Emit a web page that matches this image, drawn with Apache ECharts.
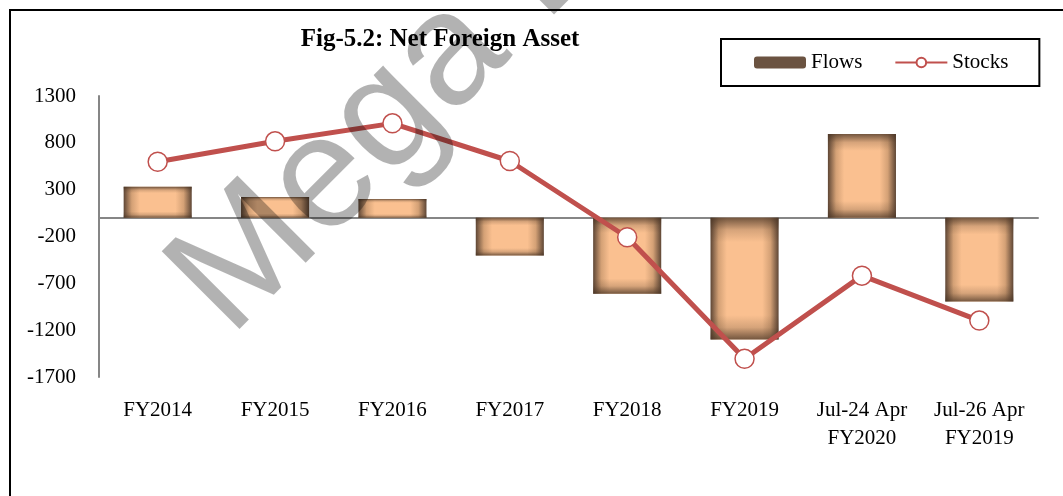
<!DOCTYPE html>
<html>
<head>
<meta charset="utf-8">
<title>Fig-5.2: Net Foreign Asset</title>
<script src="https://cdn.jsdelivr.net/npm/echarts@6/dist/echarts.min.js"></script>
<style>
  html, body { margin: 0; padding: 0; background: #fff; }
  #EchartsOne { width: 1063px; height: 496px; }
</style>
</head>
<body>
<div id="EchartsOne"></div>
<script>
// 数据
var categories = ["FY2014", "FY2015", "FY2016", "FY2017", "FY2018", "FY2019", "Jul-24 Apr\nFY2020", "Jul-26 Apr\nFY2019"];
var flows = [330, 222, 200, -404, -810, -1300, 894, -895];
var stocks = [598, 816, 1008, 606, -208, -1506, -618, -1098];
var yTicks = [-1700, -1200, -700, -200, 300, 800, 1300];

var serif = '"Liberation Serif", "Times New Roman", serif';

var option = {
  animation: false,
  backgroundColor: "#fff",
  title: {
    text: "Fig-5.2: Net Foreign Asset",
    left: 440,
    top: 27,
    textAlign: "center",
    padding: 0,
    textStyle: { fontFamily: serif, fontSize: 25, fontWeight: "bold", color: "#000" },
  },
  tooltip: { trigger: "axis" },
  legend: {
    data: [
      { name: "Flows", itemStyle: { color: "#6b5341" } },
      { name: "Stocks" },
    ],
    left: 721,
    top: 39,
    padding: [13, 31, 13, 33],
    itemWidth: 52,
    itemHeight: 12,
    itemGap: 32,
    borderColor: "#000",
    borderWidth: 2,
    textStyle: { fontFamily: serif, fontSize: 21, color: "#000" },
  },
  grid: { left: 99, right: 25, top: 96, bottom: 119 },
  xAxis: [
    {
      type: "category",
      data: categories,
      axisLine: { show: false, onZero: false },
      axisTick: { show: false },
      axisLabel: { margin: 19, interval: 0, fontFamily: serif, fontSize: 21, color: "#000", lineHeight: 28 },
    },
    {
      // 零线
      type: "category",
      data: categories,
      axisLine: { onZero: true, lineStyle: { color: "#868686", width: 2 } },
      axisTick: { show: false },
      axisLabel: { show: false },
    },
  ],
  yAxis: {
    type: "value",
    min: yTicks[0],
    max: yTicks[yTicks.length - 1],
    interval: yTicks[1] - yTicks[0],
    axisLine: { show: true, lineStyle: { color: "#868686", width: 2 } },
    axisTick: { show: false },
    splitLine: { show: false },
    axisLabel: {
      margin: 23,
      fontFamily: serif,
      fontSize: 21,
      color: "#000",
      formatter: function (v) {
        return String(v);
      },
    },
  },
  series: [
    {
      name: "Flows",
      type: "bar",
      data: flows,
      barWidth: "58%",
      itemStyle: {
        color: new echarts.graphic.LinearGradient(0, 0, 1, 0, [
          { offset: 0, color: "#5e4635" },
          { offset: 0.12, color: "#d4a176" },
          { offset: 0.24, color: "#fac090" },
          { offset: 0.76, color: "#fac090" },
          { offset: 0.88, color: "#d4a176" },
          { offset: 1, color: "#5e4635" },
        ]),
      },
    },
    {
      // 上下边缘的阴影
      name: "FlowsShade",
      type: "bar",
      data: flows,
      barWidth: "58%",
      barGap: "-100%",
      silent: true,
      tooltip: { show: false },
      itemStyle: {
        color: new echarts.graphic.LinearGradient(0, 0, 0, 1, [
          { offset: 0, color: "rgba(70,50,35,0.75)" },
          { offset: 0.1, color: "rgba(70,50,35,0.2)" },
          { offset: 0.2, color: "rgba(70,50,35,0)" },
          { offset: 0.8, color: "rgba(70,50,35,0)" },
          { offset: 0.9, color: "rgba(70,50,35,0.2)" },
          { offset: 1, color: "rgba(70,50,35,0.75)" },
        ]),
      },
    },
    {
      name: "Stocks",
      type: "line",
      data: stocks,
      symbol: "circle",
      symbolSize: 19,
      z: 5,
      lineStyle: { color: "#c0504d", width: 5 },
      itemStyle: { color: "#fff", borderColor: "#c0504d", borderWidth: 1.5 },
    },
  ],
  graphic: [
    {
      // 外框
      type: "rect",
      shape: { x: 10, y: 10, width: 1100, height: 600 },
      style: { fill: "none", stroke: "#000", lineWidth: 2 },
      silent: true,
      z: 0,
    },
    {
      // 水印
      type: "text",
      x: 199,
      y: 307,
      rotation: Math.PI / 4,
      silent: true,
      z: 100,
      style: {
        text: "Mega Lecture",
        font: '160px "Liberation Sans", Arial, sans-serif',
        fill: "rgba(0,0,0,0.3)",
        textAlign: "left",
        textVerticalAlign: "middle",
        align: "left",
        verticalAlign: "middle",
      },
    },
  ],
};

var myChart = echarts.init(document.getElementById("EchartsOne"));
if (option && typeof option === "object") {
  myChart.setOption(option);
}
</script>
</body>
</html>
